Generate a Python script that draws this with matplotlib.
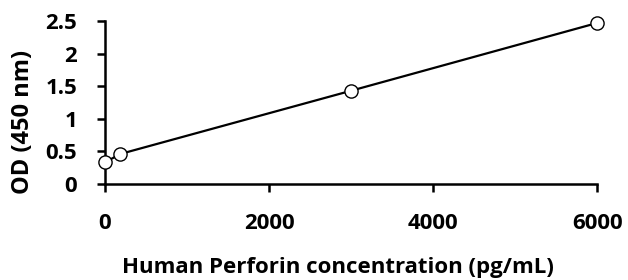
import numpy as np
import matplotlib.pyplot as plt

conc = [0, 188, 3000, 6000]
od = [0.33, 0.46, 1.43, 2.47]
xticks = [0, 2000, 4000, 6000]
yticks = [0, 0.5, 1, 1.5, 2, 2.5]
ytick_labels = ['0', '0.5', '1', '1.5', '2', '2.5']

plt.rcParams['font.family'] = ['Open Sans', 'DejaVu Sans']
plt.rcParams['font.weight'] = 'bold'

fig = plt.figure(figsize=(6.28, 2.8), dpi=100)
ax = fig.add_axes([0.167, 0.343, 0.784, 0.582])

ax.plot(conc, od, color='black', lw=1.6, marker='o', ms=9.5,
        mfc='white', mec='black', mew=1.0, clip_on=False, zorder=3)

ax.set_xlim(0, 6000)
ax.set_ylim(0, 2.5)
ax.set_xticks(xticks)
ax.set_yticks(yticks)
ax.set_yticklabels(ytick_labels)
for s in ['top', 'right']:
    ax.spines[s].set_visible(False)
for s in ['left', 'bottom']:
    ax.spines[s].set_linewidth(1.8)
ax.tick_params(axis='both', direction='out', length=6, width=1.8,
               labelsize=16)
ax.tick_params(axis='y', pad=14)
ax.tick_params(axis='x', pad=15)
for lab in ax.get_xticklabels() + ax.get_yticklabels():
    lab.set_fontweight('bold')

ax.set_xlabel('Human Perforin concentration (pg/mL)', fontsize=16,
              fontweight='bold')
ax.xaxis.set_label_coords(0.474, -0.45)
ax.set_ylabel('OD (450 nm)', fontsize=17, fontweight='bold')
ax.yaxis.set_label_coords(-0.142, 0.38)

fig.savefig('out.png', dpi=100)
